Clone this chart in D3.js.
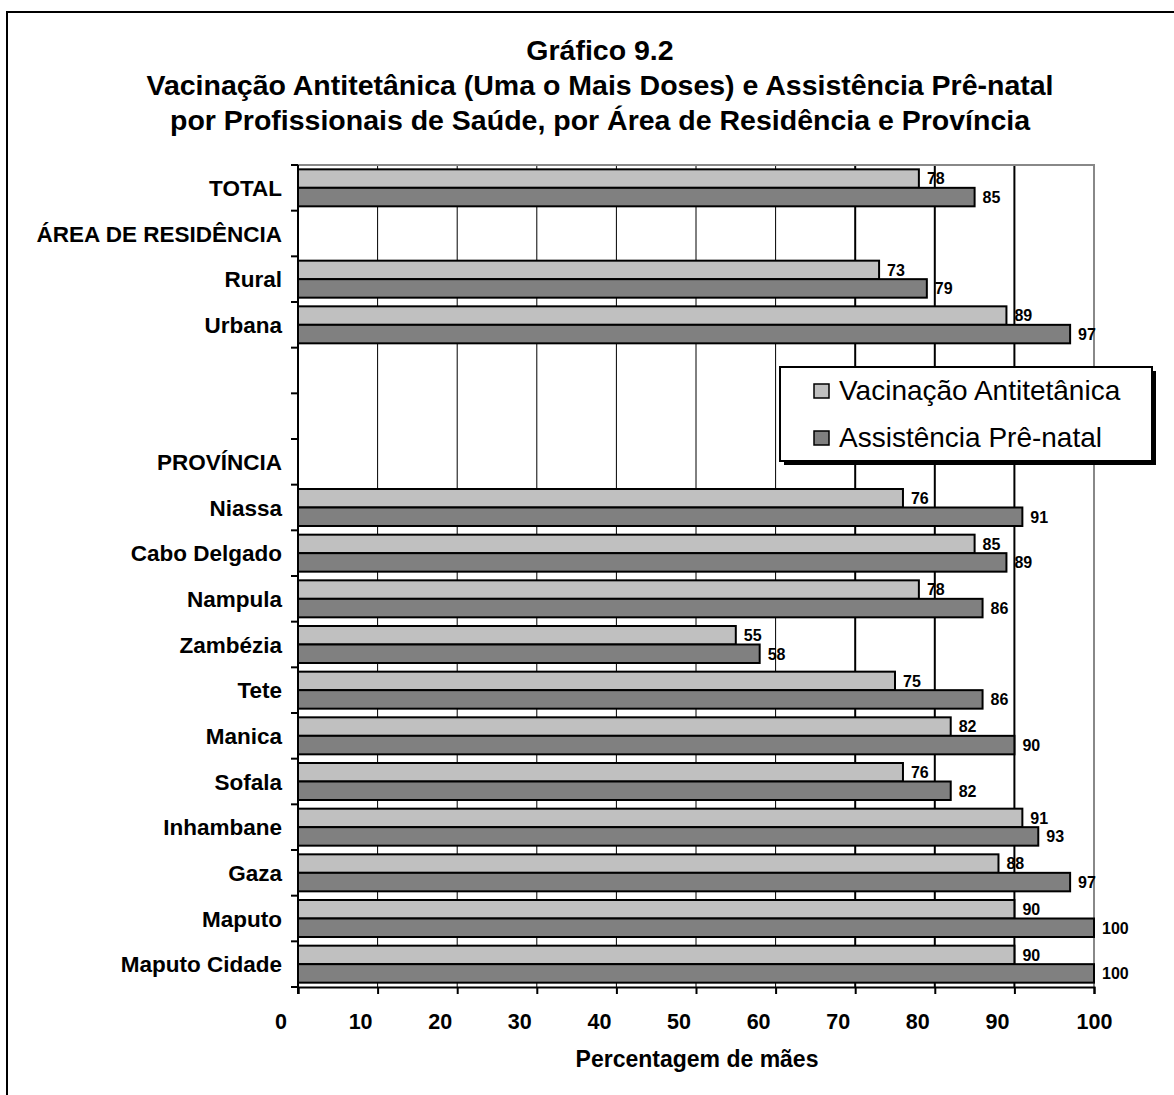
<!DOCTYPE html>
<html><head><meta charset="utf-8">
<script src="https://cdn.jsdelivr.net/npm/d3@7"></script>
<style>body{margin:0;background:#fff} svg{display:block} text{font-family:"Liberation Sans",Arial,sans-serif}</style>
</head><body><svg id="c" width="1174" height="1095"></svg>
<script>
const titleLines = ["Gráfico 9.2",
  "Vacinação Antitetânica (Uma o Mais Doses) e Assistência Prê-natal",
  "por Profissionais de Saúde, por Área de Residência e Província"];
const categories = ["TOTAL","ÁREA DE RESIDÊNCIA","Rural","Urbana","","","PROVÍNCIA",
  "Niassa","Cabo Delgado","Nampula","Zambézia","Tete","Manica","Sofala","Inhambane","Gaza","Maputo","Maputo Cidade"];
const vacinacao = [78,null,73,89,null,null,null,76,85,78,55,75,82,76,91,88,90,90];
const prenatal  = [85,null,79,97,null,null,null,91,89,86,58,86,90,82,93,97,100,100];
const seriesNames = ["Vacinação Antitetânica","Assistência Prê-natal"];
const xTicks = [0,10,20,30,40,50,60,70,80,90,100];
const xTitle = "Percentagem de mães";

const seriesValues = [vacinacao, prenatal];
const seriesFill = ["#c0c0c0","#808080"];
const m = {left:298, right:1094, top:165, bottom:987};
const svg = d3.select("#c");

svg.append("rect").attr("x",7).attr("y",12).attr("width",1190).attr("height",1110)
  .attr("fill","none").attr("stroke","#000").attr("stroke-width",2);

const x = d3.scaleLinear().domain([0,100]).range([m.left,m.right]);
const y = d3.scaleBand().domain(d3.range(categories.length)).range([m.top,m.bottom])
  .paddingInner(0.19).paddingOuter(0.095);
const ySub = d3.scaleBand().domain([0,1]).range([0,y.bandwidth()]);
const step = (m.bottom-m.top)/categories.length;

// title
const tg = svg.append("g").attr("font-weight","bold").attr("font-size",28.5).attr("text-anchor","middle");
const titleY = [60,95,130];
titleLines.forEach((t,i)=>tg.append("text").attr("x",600).attr("y",titleY[i]).text(t));

// gridlines
svg.append("g").selectAll("line").data(xTicks.filter(t=>t>0&&t<100)).join("line")
  .attr("x1",d=>x(d)).attr("x2",d=>x(d)).attr("y1",m.top).attr("y2",m.bottom)
  .attr("stroke","#000").attr("stroke-width",d=>d>=70?2:1);

// plot border (top/right gray)
svg.append("path").attr("d",`M${m.left},${m.top}H${m.right}V${m.bottom}`)
  .attr("fill","none").attr("stroke","#888").attr("stroke-width",2);

// bars
seriesValues.forEach((vals,si)=>{
  const rows = vals.map((v,i)=>({v,i})).filter(d=>d.v!=null);
  svg.append("g").selectAll("rect").data(rows).join("rect")
    .attr("x",x(0)).attr("y",d=>y(d.i)+ySub(si)).attr("width",d=>x(d.v)-x(0))
    .attr("height",ySub.bandwidth()).attr("fill",seriesFill[si])
    .attr("stroke","#000").attr("stroke-width",2);
  svg.append("g").attr("font-weight","bold").attr("font-size",16).selectAll("text").data(rows).join("text")
    .attr("x",d=>x(d.v)+8).attr("y",d=>y(d.i)+ySub(si)+ySub.bandwidth()/2).attr("dy","0.36em")
    .text(d=>d.v);
});

// left axis
const la = svg.append("g");
la.append("line").attr("x1",m.left).attr("x2",m.left).attr("y1",m.top).attr("y2",m.bottom+7)
  .attr("stroke","#000").attr("stroke-width",2);
la.selectAll("line.t").data(d3.range(categories.length+1)).join("line").attr("class","t")
  .attr("x1",m.left-7).attr("x2",m.left).attr("y1",k=>m.top+k*step).attr("y2",k=>m.top+k*step)
  .attr("stroke","#000").attr("stroke-width",2);
la.append("g").attr("font-weight","bold").attr("font-size",22.5).attr("text-anchor","end")
  .selectAll("text").data(categories.map((c,i)=>({c,i}))).join("text")
  .attr("x",282).attr("y",d=>y(d.i)+y.bandwidth()/2).attr("dy","0.36em").text(d=>d.c);

// bottom axis
const xa = svg.append("g").attr("transform",`translate(0,${m.bottom})`)
  .call(d3.axisBottom(x).tickValues(xTicks).tickSize(7).tickPadding(20).tickFormat(d3.format("d")));
xa.select(".domain").attr("stroke","#000").attr("stroke-width",2);
xa.selectAll(".tick line").attr("stroke","#000").attr("stroke-width",2);
xa.selectAll(".tick text").attr("font-family","'Liberation Sans',Arial,sans-serif")
  .attr("font-weight","bold").attr("font-size",21.5).attr("fill","#000")
  .attr("dx",d=>d===100?0:-17.5);

svg.append("text").attr("x",697).attr("y",1067).attr("text-anchor","middle")
  .attr("font-weight","bold").attr("font-size",23).text(xTitle);

// legend
const lg = svg.append("g");
lg.append("rect").attr("x",784).attr("y",371).attr("width",372).attr("height",94).attr("fill","#000");
lg.append("rect").attr("x",780).attr("y",367).attr("width",372).attr("height",94)
  .attr("fill","#fff").attr("stroke","#000").attr("stroke-width",2);
seriesNames.forEach((n,i)=>{
  lg.append("rect").attr("x",814).attr("y",384+i*47).attr("width",15).attr("height",14)
    .attr("fill",seriesFill[i]).attr("stroke","#000").attr("stroke-width",1.5);
  lg.append("text").attr("x",839).attr("y",400+i*47).attr("font-size",28).text(n);
});
</script></body></html>
